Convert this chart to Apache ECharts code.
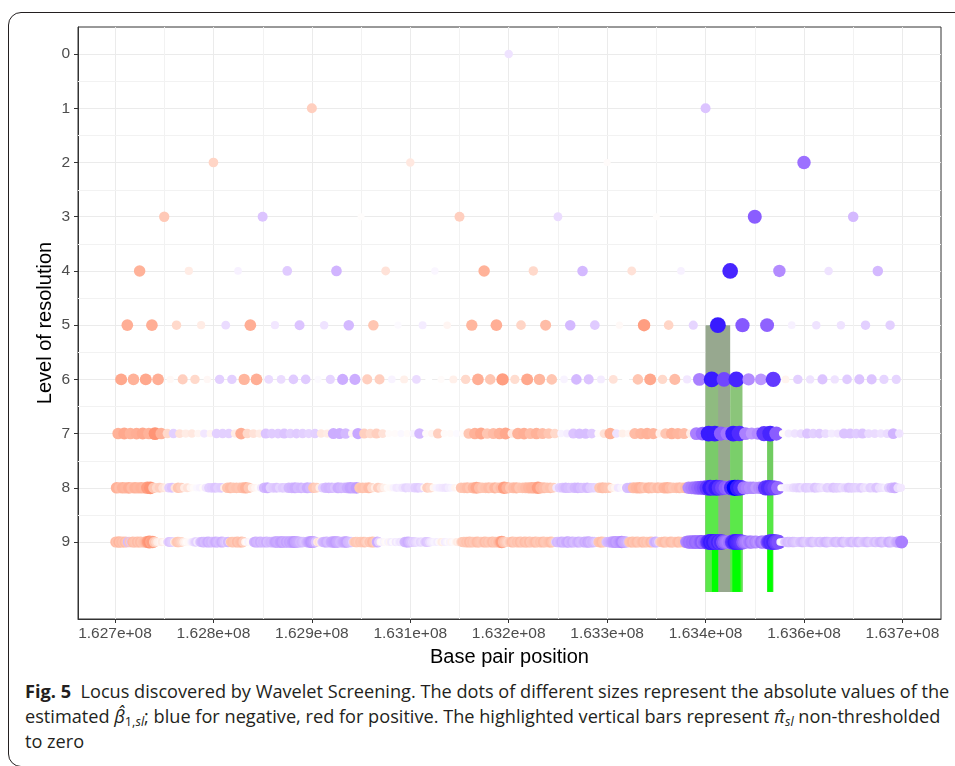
<!DOCTYPE html>
<html>
<head>
<meta charset="utf-8">
<script src="https://cdn.jsdelivr.net/npm/echarts@6/dist/echarts.min.js"></script>
<style>
  html, body { margin: 0; padding: 0; background: #fff; }
  #frame {
    position: absolute; left: 8px; top: 12px; width: 1000px; height: 755px;
    border: 1px solid #231f20; border-radius: 13px 0 0 13px; box-sizing: border-box;
  }
  #chart { position: absolute; left: 0; top: 0; width: 955px; height: 676px; }
  #caption {
    position: absolute; left: 25px; top: 679px;
    font-family: 'Open Sans', 'Noto Sans', sans-serif; font-size: 16px; line-height: 25px;
    color: #231f20; white-space: nowrap;
  }
  #caption b { font-weight: 700; }
  #caption sub { font-size: 70%; line-height: 0; vertical-align: -0.25em; }
</style>
</head>
<body>
<div id="frame"></div>
<div id="chart"></div>
<div id="caption">
  <div class="ln"><b>Fig. 5</b>&nbsp; Locus discovered by Wavelet Screening. The dots of different sizes represent the absolute values of the</div>
  <div class="ln">estimated <i>β̂</i><sub>1,<i>sl</i></sub>; blue for negative, red for positive. The highlighted vertical bars represent <i>π̂</i><sub><i>sl</i></sub> non-thresholded</div>
  <div class="ln">to zero</div>
</div>
<script>
// region covered by the wavelet decomposition (base pairs)
const regionStart = 162700000;
const regionEnd = 163700000;

const xTickValues = [162700000, 162825000, 162950000, 163075000, 163200000, 163325000, 163450000, 163575000, 163700000];
const xTickLabels = ['1.627e+08', '1.628e+08', '1.629e+08', '1.631e+08', '1.632e+08', '1.633e+08', '1.634e+08', '1.636e+08', '1.637e+08'];
const xMinorValues = [162762500, 162887500, 163012500, 163137500, 163262500, 163387500, 163512500, 163637500];
const yTickValues = [0, 1, 2, 3, 4, 5, 6, 7, 8, 9];
const yMinorValues = [0.5, 1.5, 2.5, 3.5, 4.5, 5.5, 6.5, 7.5, 8.5];

// estimated beta per level (scaled, -1 = strongest negative)
const level0 = [-0.12];
const level1 = [0.25, -0.25];
const level2 = [0.22, 0.12, 0.02, -0.62];
const level3 = [0.28, -0.25, 0.01, 0.25, -0.15, 0.01, -0.7, -0.3];
const level4 = [0.4, 0.1, -0.06, -0.22, -0.32, 0.15, -0.04, 0.4, 0.2, -0.3, 0.15, -0.06, -0.92, -0.5, -0.12, -0.3];
const level5 = [0.42, 0.42, 0.2, 0.1, -0.15, 0.42, -0.1, -0.25, -0.12, -0.3, 0.3, -0.02, -0.08, 0.05, 0.38, 0.42,
  0.22, 0.35, -0.3, -0.22, 0.03, 0.5, 0.22, -0.18, -0.95, -0.72, -0.68, -0.06, -0.12, -0.12, -0.2, -0.2];
const level6 = [0.45, 0.4, 0.45, 0.42, 0.03, 0.25, 0.2, 0.04, -0.2, -0.2, 0.38, 0.42, -0.15, -0.15, -0.22, -0.22,
  -0.02, -0.18, -0.35, -0.35, 0.25, 0.25, -0.05, 0.08, -0.15, 0.0, 0.02, 0.08, 0.2, 0.42, 0.3, 0.5,
  0.18, 0.45, 0.38, 0.3, -0.05, -0.3, -0.25, -0.08, 0.15, 0.0, 0.3, 0.45, 0.2, 0.35, -0.1, -0.55,
  -0.95, -0.8, -0.92, -0.5, -0.45, -0.85, 0.06, -0.2, -0.12, -0.25, -0.12, -0.22, -0.25, -0.25, -0.18, -0.18];
const level7 = [0.4, 0.45, 0.4, 0.42, 0.45, 0.4, 0.55, 0.4,
  0.2, -0.2, 0.15, 0.1, 0.12, 0.05, -0.1, 0.05,
  -0.2, -0.2, -0.2, 0.1, 0.42, 0.2, 0.15, 0.1,
  -0.25, -0.22, -0.22, -0.25, -0.2, -0.22, -0.2, -0.18,
  -0.2, 0.12, 0.1, -0.35, -0.35, -0.3, 0.05, -0.38,
  0.25, 0.2, 0.25, 0.15, 0.02, 0.02, -0.03, 0.02,
  -0.05, -0.3, 0.02, 0.05, 0.25, 0.02, 0.02, -0.02,
  0.02, 0.3, 0.4, 0.45, 0.3, 0.35, 0.4, 0.45,
  0.12, 0.4, 0.42, 0.35, 0.4, 0.35, 0.3, 0.2,
  -0.05, -0.08, -0.25, -0.28, -0.28, -0.22, 0.02, 0.15,
  0.4, -0.12, 0.08, 0.05, 0.35, 0.38, 0.4, 0.38,
  0.08, 0.3, 0.4, 0.38, 0.35, 0.1, -0.55, -0.65,
  -0.95, -0.95, -0.7, -0.6, -0.95, -0.9, -0.55, -0.45,
  -0.5, -0.85, -0.92, -0.7, 0.02, -0.08, -0.12, -0.15,
  -0.25, -0.2, -0.22, -0.15, -0.08, -0.1, -0.25, -0.25,
  -0.22, -0.25, -0.15, -0.15, -0.12, -0.15, -0.32, -0.12];
const level8 = [0.4, 0.35, 0.4, 0.38, 0.42, 0.35, 0.4, 0.38,
  0.4, 0.38, 0.5, 0.55, 0.3, 0.2, 0.25, 0.15,
  0.1, -0.2, -0.25, 0.15, 0.3, 0.25, 0.1, 0.15,
  0.05, 0.02, -0.03, -0.05, 0.02, -0.1, -0.2, -0.22,
  -0.25, -0.2, -0.22, 0.1, 0.3, 0.35, 0.3, 0.32,
  0.3, 0.35, 0.4, 0.3, 0.1, 0.05, 0.02, -0.1,
  -0.3, -0.35, -0.2, -0.22, -0.25, -0.18, -0.22, -0.2,
  -0.3, -0.32, -0.35, -0.3, -0.32, -0.28, -0.35, -0.3,
  0.3, 0.25, 0.1, -0.2, -0.3, -0.32, -0.3, -0.25,
  -0.35, -0.32, -0.3, -0.35, -0.4, -0.38, -0.42, 0.3,
  0.32, 0.3, 0.35, 0.2, 0.1, 0.25, 0.15, 0.08,
  0.02, 0.03, -0.05, -0.1, -0.08, -0.12, -0.18, -0.15,
  -0.15, -0.2, -0.22, -0.18, 0.05, 0.25, 0.2, 0.05,
  -0.05, -0.08, -0.1, -0.12, -0.08, -0.05, 0.05, 0.02,
  0.3, 0.32, 0.35, 0.3, 0.38, 0.45, 0.35, 0.3,
  0.32, 0.35, 0.3, 0.38, 0.3, 0.35, 0.5, 0.4,
  0.3, 0.35, 0.38, 0.3, 0.32, 0.35, 0.38, 0.4,
  0.4, 0.5, 0.38, 0.35, 0.3, 0.32, 0.25, -0.1,
  -0.2, -0.25, -0.3, -0.28, -0.25, -0.3, -0.32, -0.28,
  -0.25, -0.3, -0.22, -0.2, -0.18, 0.3, 0.35, 0.32,
  0.3, 0.1, 0.05, -0.1, -0.05, 0.02, -0.28, -0.3,
  0.35, 0.38, 0.4, 0.35, 0.3, 0.38, 0.35, 0.3,
  0.35, 0.3, 0.38, 0.4, 0.35, 0.3, 0.32, 0.35,
  0.3, 0.35, -0.5, -0.55, -0.6, -0.65, -0.7, -0.75,
  -0.85, -0.95, -0.9, -0.95, -0.88, -0.8, -0.7, -0.65,
  -0.9, -1.0, -0.95, -0.9, -0.6, -0.55, -0.5, -0.52,
  -0.45, -0.5, -0.55, -0.85, -0.9, -0.85, -0.8, -0.65,
  0.02, -0.05, -0.08, -0.1, -0.15, -0.18, -0.2, -0.15,
  -0.22, -0.2, -0.18, -0.25, -0.2, -0.15, -0.12, -0.2,
  -0.18, -0.25, -0.22, -0.2, -0.15, -0.18, -0.25, -0.22,
  -0.2, -0.18, -0.22, -0.15, -0.12, -0.2, -0.18, -0.25,
  -0.15, -0.12, -0.08, -0.2, -0.3, -0.35, -0.15, -0.1];
const level9 = [0.35, 0.3, 0.38, 0.32, 0.35, 0.3, 0.35, 0.3,
  -0.3, 0.3, -0.25, 0.35, 0.32, 0.3, 0.35, 0.3,
  0.35, 0.3, 0.32, 0.35, 0.4, 0.5, 0.55, 0.45,
  0.5, 0.3, 0.2, 0.1, 0.08, 0.05, 0.1, 0.05,
  0.02, 0.05, -0.2, -0.25, -0.22, -0.2, 0.1, 0.2,
  0.3, 0.28, 0.25, 0.2, 0.1, 0.05, 0.02, 0.03,
  0.03, -0.05, -0.1, -0.15, -0.2, -0.08, -0.12, -0.25,
  -0.3, -0.32, -0.28, -0.3, -0.35, -0.3, -0.32, -0.28,
  -0.3, -0.35, -0.32, -0.28, -0.3, -0.35, -0.3, -0.25,
  -0.2, -0.3, 0.1, 0.3, 0.32, 0.3, 0.28, 0.35,
  0.3, 0.32, 0.35, 0.25, 0.05, 0.02, -0.05, 0.03,
  0.02, -0.08, -0.3, -0.35, -0.32, -0.3, -0.35, -0.3,
  -0.32, -0.3, -0.35, -0.28, -0.3, -0.32, -0.3, -0.35,
  -0.4, -0.38, -0.35, -0.4, -0.42, -0.38, -0.35, -0.4,
  -0.35, -0.4, -0.38, -0.42, -0.45, -0.4, -0.38, -0.35,
  -0.3, -0.32, -0.28, -0.25, -0.3, -0.35, -0.4, -0.45,
  -0.42, -0.38, -0.25, 0.1, 0.15, 0.08, -0.2, -0.3,
  -0.32, -0.35, -0.3, -0.28, -0.35, -0.38, -0.4, -0.42,
  -0.38, -0.35, -0.3, -0.32, -0.35, -0.38, -0.4, -0.32,
  -0.3, -0.28, -0.2, 0.25, 0.3, 0.28, 0.25, 0.3,
  0.28, 0.3, 0.32, 0.25, 0.2, 0.3, 0.28, 0.35,
  0.3, 0.25, -0.35, -0.2, 0.05, 0.02, -0.05, 0.03,
  0.02, -0.05, 0.05, -0.08, -0.03, 0.02, -0.1, -0.05,
  -0.08, -0.12, -0.1, -0.15, -0.3, -0.32, -0.35, -0.3,
  -0.25, -0.2, -0.22, -0.18, -0.15, -0.12, -0.18, -0.15,
  -0.12, -0.2, -0.25, -0.22, -0.15, -0.1, -0.08, -0.05,
  -0.05, -0.08, -0.03, 0.05, 0.1, 0.05, -0.08, -0.05,
  0.02, -0.05, 0.05, -0.03, 0.02, 0.05, 0.1, 0.08,
  0.15, 0.25, 0.3, 0.28, 0.32, 0.3, 0.35, 0.3,
  0.32, 0.28, 0.3, 0.35, 0.32, 0.3, 0.28, 0.3,
  0.35, 0.3, 0.32, 0.28, 0.3, 0.35, 0.3, 0.32,
  0.3, 0.35, 0.4, 0.5, 0.35, 0.3, 0.25, 0.2,
  0.25, 0.3, 0.35, 0.3, 0.28, 0.32, 0.3, 0.35,
  0.3, 0.28, 0.35, 0.32, 0.3, 0.35, 0.28, 0.3,
  0.32, 0.35, 0.3, 0.28, 0.32, 0.3, 0.35, 0.3,
  0.28, 0.3, 0.32, 0.35, 0.3, 0.25, -0.2, -0.3,
  -0.28, -0.3, -0.35, -0.32, -0.3, -0.35, -0.38, -0.3,
  -0.32, -0.35, -0.3, -0.28, -0.32, -0.35, -0.3, -0.28,
  -0.3, -0.35, -0.32, -0.38, -0.35, -0.3, -0.32, -0.3,
  -0.25, -0.2, 0.3, 0.32, 0.35, 0.3, 0.28, -0.25,
  -0.3, -0.32, -0.35, -0.4, -0.42, -0.45, -0.4, -0.42,
  -0.45, -0.5, -0.4, -0.38, -0.35, -0.3, 0.3, 0.32,
  0.35, 0.3, 0.32, 0.35, 0.3, 0.28, 0.32, 0.35,
  0.3, 0.32, 0.28, 0.3, 0.35, 0.3, -0.3, -0.35,
  -0.3, -0.2, 0.25, 0.3, 0.32, 0.35, 0.3, 0.28,
  0.3, 0.35, 0.32, 0.3, 0.28, 0.32, 0.35, 0.3,
  0.3, 0.32, 0.25, -0.5, -0.55, -0.6, -0.58, -0.62,
  -0.6, -0.65, -0.62, -0.6, -0.65, -0.7, -0.6, -0.65,
  -0.7, -0.85, -0.9, -0.95, -0.92, -0.95, -0.9, -0.88,
  -0.92, -0.85, -0.9, -0.75, -0.65, -0.6, -0.55, -0.6,
  -0.65, -0.85, -0.9, -0.95, -0.92, -0.9, -0.88, -0.85,
  -0.7, -0.6, -0.55, -0.5, -0.55, -0.6, -0.52, -0.5,
  -0.55, -0.5, -0.45, -0.5, -0.6, -0.55, -0.5, -0.55,
  -0.75, -0.85, -0.9, -0.88, -0.92, -0.85, -0.8, -0.75,
  -0.05, 0.02, -0.05, -0.2, -0.25, -0.3, -0.28, -0.25,
  -0.3, -0.28, -0.25, -0.22, -0.2, -0.25, -0.28, -0.3,
  -0.25, -0.22, -0.2, -0.25, -0.28, -0.3, -0.25, -0.22,
  -0.2, -0.25, -0.28, -0.22, -0.25, -0.3, -0.32, -0.28,
  -0.25, -0.22, -0.2, -0.25, -0.3, -0.28, -0.25, -0.22,
  -0.3, -0.32, -0.25, -0.22, -0.2, -0.25, -0.28, -0.3,
  -0.25, -0.22, -0.28, -0.3, -0.25, -0.2, -0.22, -0.25,
  -0.28, -0.3, -0.25, -0.22, -0.2, -0.25, -0.28, -0.22,
  -0.25, -0.3, -0.32, -0.28, -0.25, -0.22, -0.3, -0.35,
  -0.3, -0.28, -0.25, -0.3, -0.35, -0.38, -0.4, -0.55];

// highlighted bars: start/end (bp), top level, bottom level
const barStart = [163450000, 163450000, 163481250, 163528125, 163450000, 163481250, 163450000, 163481250, 163528125, 163458000, 163484000, 163528700];
const barEnd   = [163481250, 163466000, 163496875, 163535938, 163466000, 163496875, 163466000, 163496875, 163535938, 163466000, 163494500, 163535300];
const barTop   = [5, 6, 6, 7, 7, 7, 8, 8, 8, 9, 9, 9];
const barBottom = [9.92, 9.92, 9.92, 9.92, 9.92, 9.92, 9.92, 9.92, 9.92, 9.92, 9.92, 9.92];
const barColors = ['#97a88f', '#8fbb80', '#8bc57a', '#70cc60', '#7acb6a', '#7acf6a', '#5be84a', '#5be84a', '#55e845', '#00ff00', '#00ff00', '#00ff00'];

const levels = [level0, level1, level2, level3, level4, level5, level6, level7, level8, level9];

// colour ramp blue - white - red interpolated in CIELAB (like scale_colour_gradient2)
function toLin(c) { c /= 255; return c <= 0.04045 ? c / 12.92 : Math.pow((c + 0.055) / 1.055, 2.4); }
function fromLin(c) {
  c = c <= 0.0031308 ? 12.92 * c : 1.055 * Math.pow(c, 1 / 2.4) - 0.055;
  return Math.round(Math.max(0, Math.min(1, c)) * 255);
}
function rgbToLab(rgb) {
  const [r, g, b] = rgb.map(toLin);
  const X = (0.4124 * r + 0.3576 * g + 0.1805 * b) / 0.95047;
  const Y = 0.2126 * r + 0.7152 * g + 0.0722 * b;
  const Z = (0.0193 * r + 0.1192 * g + 0.9505 * b) / 1.08883;
  const f = t => t > 0.008856 ? Math.cbrt(t) : 7.787 * t + 16 / 116;
  return [116 * f(Y) - 16, 500 * (f(X) - f(Y)), 200 * (f(Y) - f(Z))];
}
function labToRgb(lab) {
  const fy = (lab[0] + 16) / 116, fx = fy + lab[1] / 500, fz = fy - lab[2] / 200;
  const inv = t => t * t * t > 0.008856 ? t * t * t : (t - 16 / 116) / 7.787;
  const X = inv(fx) * 0.95047, Y = inv(fy), Z = inv(fz) * 1.08883;
  const r = 3.2406 * X - 1.5372 * Y - 0.4986 * Z;
  const g = -0.9689 * X + 1.8758 * Y + 0.0415 * Z;
  const b = 0.0557 * X - 0.2040 * Y + 1.0570 * Z;
  return 'rgb(' + fromLin(r) + ',' + fromLin(g) + ',' + fromLin(b) + ')';
}
const labWhite = rgbToLab([255, 255, 255]);
const labBlue = rgbToLab([0, 0, 255]);
const labRed = rgbToLab([255, 0, 0]);
function betaColor(v) {
  const end = v < 0 ? labBlue : labRed;
  const t = Math.min(1, Math.abs(v));
  return labToRgb(labWhite.map((w, i) => w + (end[i] - w) * t));
}

const dots = [];
levels.forEach((vals, s) => {
  const step = (regionEnd - regionStart) / vals.length;
  vals.forEach((v, k) => dots.push([regionStart + (k + 0.5) * step, s, v]));
});
const bars = barStart.map((b, i) => [b, barEnd[i], barTop[i], barBottom[i]]);

const chart = echarts.init(document.getElementById('chart'));
const axisFont = 'Liberation Sans, Arial, sans-serif';
const xMin = 162653000, xMax = 163749000;
const yMin = -0.5, yMax = 10.42;

// minor grid lines, placed through the axes' own scales
const minorLines = xMinorValues.map(v => [v, yMin, v, yMax])
  .concat(yMinorValues.map(v => [xMin, v, xMax, v]));

chart.setOption({
  animation: false,
  backgroundColor: 'transparent',
  grid: { left: 78, top: 27, width: 863, height: 592, show: true, borderColor: '#333', borderWidth: 1, backgroundColor: '#fff' },
  xAxis: {
    type: 'value', min: xMin, max: xMax, position: 'bottom',
    name: 'Base pair position', nameLocation: 'middle', nameGap: 28, nameMoveOverlap: false,
    nameTextStyle: { fontFamily: axisFont, fontSize: 20, color: '#000' },
    axisLine: { show: true, onZero: false, lineStyle: { color: '#333', width: 1 } },
    axisTick: { show: true, inside: false, length: 4, customValues: xTickValues, lineStyle: { color: '#333' } },
    axisLabel: { customValues: xTickValues, margin: 7, fontFamily: axisFont, fontSize: 15.5, color: '#4d4d4d',
      formatter: v => xTickLabels[xTickValues.indexOf(v)] },
    splitLine: { show: true, lineStyle: { color: '#ebebeb', width: 1 } }
  },
  yAxis: {
    type: 'value', inverse: true, min: yMin, max: yMax, position: 'left',
    name: 'Level of resolution', nameLocation: 'middle', nameGap: 23, nameMoveOverlap: false,
    nameTextStyle: { fontFamily: axisFont, fontSize: 20, color: '#000' },
    axisLine: { show: true, onZero: false, lineStyle: { color: '#333', width: 1 } },
    axisTick: { show: true, inside: false, length: 4, customValues: yTickValues, lineStyle: { color: '#333' } },
    axisLabel: { customValues: yTickValues, margin: 8, fontFamily: axisFont, fontSize: 15.5, color: '#4d4d4d' },
    splitLine: { show: true, lineStyle: { color: '#ebebeb', width: 1 } }
  },
  series: [{
    type: 'custom',
    z: 1,
    silent: true,
    data: minorLines,
    renderItem: (params, api) => {
      const a = api.coord([api.value(0), api.value(1)]);
      const b = api.coord([api.value(2), api.value(3)]);
      const vertical = Math.abs(a[0] - b[0]) < 0.5;
      const sx = v => Math.round(v) + 0.5;
      return {
        type: 'line',
        shape: vertical ? { x1: sx(a[0]), y1: a[1], x2: sx(b[0]), y2: b[1] } : { x1: a[0], y1: sx(a[1]), x2: b[0], y2: sx(b[1]) },
        style: { stroke: '#f2f2f2', lineWidth: 1 }
      };
    }
  }, {
    type: 'custom',
    z: 2,
    silent: true,
    data: bars,
    renderItem: (params, api) => {
      const p0 = api.coord([api.value(0), api.value(2)]);
      const p1 = api.coord([api.value(1), api.value(3)]);
      return {
        type: 'rect',
        shape: { x: p0[0], y: p0[1], width: p1[0] - p0[0], height: p1[1] - p0[1] },
        style: { fill: barColors[params.dataIndex] }
      };
    }
  }, {
    type: 'scatter',
    z: 3,
    silent: true,
    data: dots,
    symbol: 'circle',
    symbolSize: v => Math.sqrt(46 + 217 * Math.abs(v[2])),
    itemStyle: { opacity: 1, color: p => betaColor(p.value[2]) }
  }]
});

// fit caption lines to the reference width
const cap = document.getElementById('caption');
const first = cap.querySelector('.ln');
const w = first.getBoundingClientRect().width;
cap.style.fontSize = (16 * 925 / w) + 'px';
</script>
</body>
</html>
